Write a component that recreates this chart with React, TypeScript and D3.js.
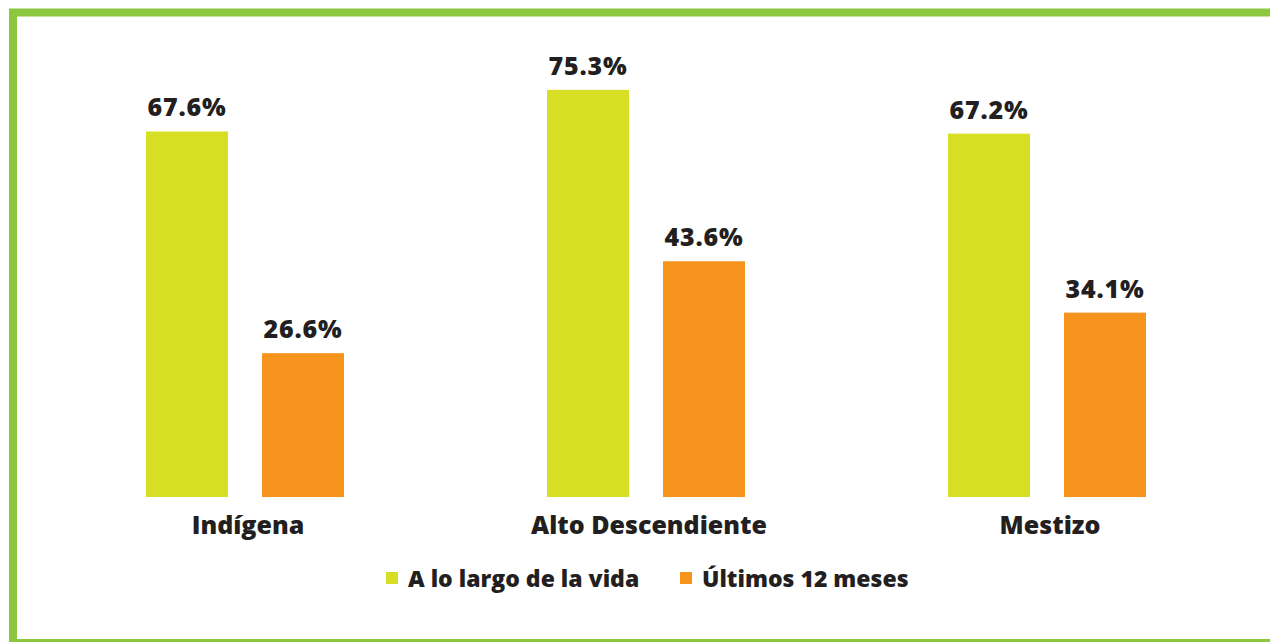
import React from 'react';
import { scaleBand, scaleLinear } from 'd3';

const categories = ['Indígena', 'Alto Descendiente', 'Mestizo'];
const seriesNames = ['A lo largo de la vida', 'Últimos 12 meses'];
const lifetime = [67.6, 75.3, 67.2];
const lastYear = [26.6, 43.6, 34.1];
const seriesValues = [lifetime, lastYear];
const seriesColors = ['#d6df23', '#f7941d'];

const W = 1270;
const H = 642;
const baseY = 497;
const font = "'Open Sans', sans-serif";
const ink = '#231f20';

const App = () => {
  const x0 = scaleBand<string>().domain(categories).range([44.5, 1247.5]).padding(0);
  const groupW = 198;
  const x1 = scaleBand<string>().domain(seriesNames).range([0, groupW]).paddingInner(0.293).paddingOuter(0);
  const y = scaleLinear().domain([0, 80]).range([baseY, baseY - 80 * 5.407]);
  const offset = (x0.bandwidth() - groupW) / 2;

  const legendX = [386, 680];

  return (
    <svg
      width={W}
      height={H}
      style={{ position: 'absolute', left: 0, top: 0, display: 'block' }}
    >
      <rect x={0} y={0} width={W} height={H} fill='#fff' />
      <path d={`M${W + 10},12.5 H13 V${H + 10}`} fill='none' stroke='#8dc63f' strokeWidth={8} />
      <line x1={13} x2={W + 10} y1={643} y2={643} stroke='#8dc63f' strokeWidth={8} />

      {categories.map((c, i) => {
        const gx = (x0(c) as number) + offset;
        return (
          <g key={c}>
            {seriesNames.map((s, j) => {
              const v = seriesValues[j][i];
              const bx = gx + (x1(s) as number);
              return (
                <g key={s}>
                  <rect
                    x={bx}
                    y={y(v)}
                    width={x1.bandwidth()}
                    height={baseY - y(v)}
                    fill={seriesColors[j]}
                  />
                  <text
                    x={bx + x1.bandwidth() / 2}
                    y={y(v) - 15}
                    textAnchor='middle'
                    fontFamily={font}
                    fontWeight={800}
                    fontSize={25}
                    letterSpacing={0.8}
                    fill={ink}
                  >
                    {v.toFixed(1)}%
                  </text>
                </g>
              );
            })}
            <text
              x={(x0(c) as number) + x0.bandwidth() / 2 + 3}
              y={534}
              textAnchor='middle'
              fontFamily={font}
              fontWeight={800}
              fontSize={25}
              fill={ink}
            >
              {c}
            </text>
          </g>
        );
      })}

      {seriesNames.map((s, j) => (
        <g key={s}>
          <rect x={legendX[j]} y={572} width={12} height={12} fill={seriesColors[j]} />
          <text
            x={legendX[j] + 22}
            y={587}
            fontFamily={font}
            fontWeight={800}
            fontSize={23}
            fill={ink}
          >
            {s}
          </text>
        </g>
      ))}
    </svg>
  );
};

export default App;
